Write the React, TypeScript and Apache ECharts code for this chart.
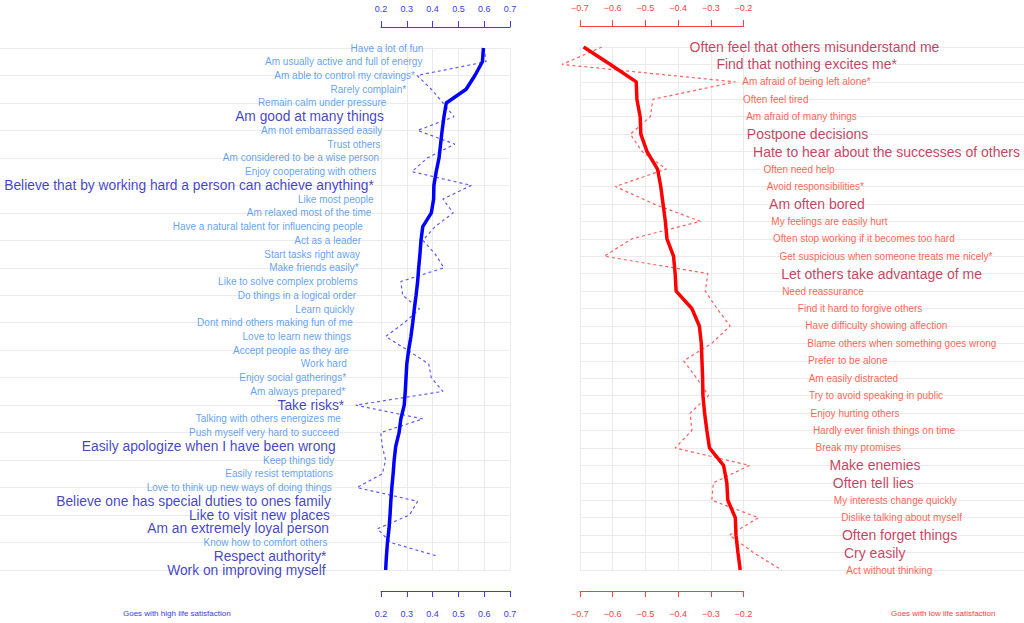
import { useEffect, useRef } from "react";
import * as echarts from "echarts";

// traits that go with high life satisfaction
const highItems = [
  "Have a lot of fun",
  "Am usually active and full of energy",
  "Am able to control my cravings*",
  "Rarely complain*",
  "Remain calm under pressure",
  "Am good at many things",
  "Am not embarrassed easily",
  "Trust others",
  "Am considered to be a wise person",
  "Enjoy cooperating with others",
  "Believe that by working hard a person can achieve anything*",
  "Like most people",
  "Am relaxed most of the time",
  "Have a natural talent for influencing people",
  "Act as a leader",
  "Start tasks right away",
  "Make friends easily*",
  "Like to solve complex problems",
  "Do things in a logical order",
  "Learn quickly",
  "Dont mind others making fun of me",
  "Love to learn new things",
  "Accept people as they are",
  "Work hard",
  "Enjoy social gatherings*",
  "Am always prepared*",
  "Take risks*",
  "Talking with others energizes me",
  "Push myself very hard to succeed",
  "Easily apologize when I have been wrong",
  "Keep things tidy",
  "Easily resist temptations",
  "Love to think up new ways of doing things",
  "Believe one has special duties to ones family",
  "Like to visit new places",
  "Am an extremely loyal person",
  "Know how to comfort others",
  "Respect authority*",
  "Work on improving myself",
];
const highSolid = [
  0.597, 0.593, 0.564, 0.53, 0.453, 0.444, 0.437, 0.431, 0.425, 0.414, 0.405,
  0.404, 0.395, 0.362, 0.355, 0.351, 0.346, 0.342, 0.336, 0.329, 0.323, 0.316,
  0.307, 0.3, 0.297, 0.294, 0.29, 0.277, 0.27, 0.257, 0.251, 0.247, 0.242,
  0.238, 0.235, 0.231, 0.225, 0.221, 0.218,
];
const highDashed = [
  0.6, 0.607, 0.34, 0.395, 0.44, 0.483, 0.342, 0.486, 0.38, 0.32, 0.55, 0.44,
  0.48, 0.41, 0.362, 0.41, 0.444, 0.277, 0.284, 0.349, 0.29, 0.218, 0.303,
  0.385, 0.395, 0.44, 0.102, 0.362, 0.199, 0.205, 0.218, 0.205, 0.107, 0.342,
  0.31, 0.186, 0.238, 0.42,
];
const highBig = [
  "Am good at many things",
  "Believe that by working hard a person can achieve anything*",
  "Take risks*",
  "Easily apologize when I have been wrong",
  "Believe one has special duties to ones family",
  "Like to visit new places",
  "Am an extremely loyal person",
  "Respect authority*",
  "Work on improving myself",
];

// traits that go with low life satisfaction
const lowItems = [
  "Often feel that others misunderstand me",
  "Find that nothing excites me*",
  "Am afraid of being left alone*",
  "Often feel tired",
  "Am afraid of many things",
  "Postpone decisions",
  "Hate to hear about the successes of others",
  "Often need help",
  "Avoid responsibilities*",
  "Am often bored",
  "My feelings are easily hurt",
  "Often stop working if it becomes too hard",
  "Get suspicious when someone treats me nicely*",
  "Let others take advantage of me",
  "Need reassurance",
  "Find it hard to forgive others",
  "Have difficulty showing affection",
  "Blame others when something goes wrong",
  "Prefer to be alone",
  "Am easily distracted",
  "Try to avoid speaking in public",
  "Enjoy hurting others",
  "Hardly ever finish things on time",
  "Break my promises",
  "Make enemies",
  "Often tell lies",
  "My interests change quickly",
  "Dislike talking about myself",
  "Often forget things",
  "Cry easily",
  "Act without thinking",
];
const lowSolid = [
  -0.689, -0.607, -0.528, -0.526, -0.516, -0.514, -0.495, -0.463, -0.453,
  -0.446, -0.439, -0.434, -0.414, -0.409, -0.406, -0.358, -0.335, -0.329,
  -0.327, -0.325, -0.324, -0.319, -0.312, -0.304, -0.261, -0.251, -0.248,
  -0.225, -0.223, -0.217, -0.21,
];
const lowDashed = [
  -0.633, -0.755, -0.225, -0.477, -0.485, -0.546, -0.51, -0.436, -0.592,
  -0.475, -0.332, -0.541, -0.626, -0.309, -0.317, -0.281, -0.241, -0.297,
  -0.383, -0.343, -0.307, -0.363, -0.358, -0.409, -0.182, -0.292, -0.297,
  -0.154, -0.243, -0.17, -0.083,
];
const lowBig = [
  "Often feel that others misunderstand me",
  "Find that nothing excites me*",
  "Postpone decisions",
  "Hate to hear about the successes of others",
  "Am often bored",
  "Let others take advantage of me",
  "Make enemies",
  "Often tell lies",
  "Often forget things",
  "Cry easily",
];

const FONT = "Liberation Sans, Arial, Helvetica, sans-serif";
const GRID_LINE = "#ebebeb";
const BLUE_AXIS = "#3a3aee";
const RED_AXIS = "#ff4040";

const fmt = (v: number) => v.toFixed(1).replace("-", "\u2212");

const valueAxis = (grid: number, pos: string, min: number, max: number, color: string, split: boolean) => ({
  type: "value",
  gridIndex: grid,
  position: pos,
  offset: 21,
  min,
  max,
  interval: 0.1,
  axisLine: { show: true, lineStyle: { color, width: 1 } },
  axisTick: { show: true, length: 6, lineStyle: { color } },
  axisLabel: {
    color,
    fontSize: 9,
    fontFamily: FONT,
    margin: pos === "top" ? 14 : 18,
    formatter: fmt,
  },
  splitLine: { show: split, lineStyle: { color: GRID_LINE, width: 1 } },
});

const bgCategory = (grid: number, data: string[]) => ({
  type: "category",
  gridIndex: grid,
  data,
  inverse: true,
  boundaryGap: false,
  axisLine: { show: false },
  axisTick: { show: false },
  axisLabel: { show: false },
  splitLine: { show: true, lineStyle: { color: GRID_LINE, width: 1 } },
});

const App = () => {
  const chartRef = useRef(null);

  useEffect(() => {
    const chart = echarts.init(chartRef.current, null, { renderer: "svg" });

    const labelFor = (big: boolean, high: boolean) => ({
      show: true,
      position: high ? "left" : "right",
      distance: high ? 60 : 106,
      fontFamily: FONT,
      fontSize: big ? (high ? 13.8 : 14) : 10,
      color: high ? (big ? "#1010b8" : "#3a8af0") : big ? "#b8103a" : "#ff3a26",
      formatter: (p) => p.name,
    });

    const option: any = {
      animation: false,
      grid: [
        { left: 381, width: 129, top: 48, height: 522 },
        { left: 0, width: 510, top: 48, height: 522 },
        { left: 580, width: 163.5, top: 47, height: 523 },
        { left: 580, right: 0, top: 47, height: 523 },
      ],
      xAxis: [
        valueAxis(0, "bottom", 0.2, 0.7, BLUE_AXIS, true),
        valueAxis(0, "top", 0.2, 0.7, BLUE_AXIS, false),
        { type: "value", gridIndex: 1, show: false },
        valueAxis(2, "bottom", -0.7, -0.2, RED_AXIS, true),
        valueAxis(2, "top", -0.7, -0.2, RED_AXIS, false),
        { type: "value", gridIndex: 3, show: false },
      ],
      yAxis: [
        { type: "category", gridIndex: 0, data: highItems, inverse: true, boundaryGap: false, show: false },
        bgCategory(1, highItems),
        { type: "category", gridIndex: 2, data: lowItems, inverse: true, boundaryGap: false, show: false },
        bgCategory(3, lowItems),
      ],
      graphic: [
        {
          type: "text",
          left: 123,
          top: 609,
          style: { text: "Goes with high life satisfaction", fill: BLUE_AXIS, font: `8px ${FONT}` },
        },
        {
          type: "text",
          left: 891,
          top: 609,
          style: { text: "Goes with low life satisfaction", fill: RED_AXIS, font: `8px ${FONT}` },
        },
      ],
      series: [
        {
          type: "line",
          xAxisIndex: 0,
          yAxisIndex: 0,
          data: highDashed.map((v, i) => [v, highItems[i]]),
          showSymbol: false,
          clip: false,
          lineStyle: { color: "#5c5cff", width: 1.2, type: [3, 3] },
          z: 3,
        },
        {
          type: "line",
          xAxisIndex: 0,
          yAxisIndex: 0,
          data: highSolid.map((v, i) => [v, highItems[i]]),
          showSymbol: false,
          clip: false,
          lineStyle: { color: "#0000ff", width: 3.5 },
          z: 4,
        },
        {
          type: "scatter",
          xAxisIndex: 0,
          yAxisIndex: 0,
          symbolSize: 0,
          data: highSolid.map((v, i) => ({
            name: highItems[i],
            value: [v, highItems[i]],
            label: labelFor(highBig.includes(highItems[i]), true),
          })),
          z: 5,
        },
        {
          type: "line",
          xAxisIndex: 3,
          yAxisIndex: 2,
          data: lowDashed.map((v, i) => [v, lowItems[i]]),
          showSymbol: false,
          clip: false,
          lineStyle: { color: "#ff5c5c", width: 1.2, type: [3, 3] },
          z: 3,
        },
        {
          type: "line",
          xAxisIndex: 3,
          yAxisIndex: 2,
          data: lowSolid.map((v, i) => [v, lowItems[i]]),
          showSymbol: false,
          clip: false,
          lineStyle: { color: "#ff0000", width: 3.5 },
          z: 4,
        },
        {
          type: "scatter",
          xAxisIndex: 3,
          yAxisIndex: 2,
          symbolSize: 0,
          data: lowSolid.map((v, i) => ({
            name: lowItems[i],
            value: [v, lowItems[i]],
            label: labelFor(lowBig.includes(lowItems[i]), false),
          })),
          z: 5,
        },
      ],
    };

    chart.setOption(option);

    return () => {
      chart.dispose();
    };
  }, []);

  return (
    <div
      ref={chartRef}
      style={{ position: "fixed", left: 0, top: 0, width: "1024px", height: "623px", background: "#fff" }}
    />
  );
};

export default App;
